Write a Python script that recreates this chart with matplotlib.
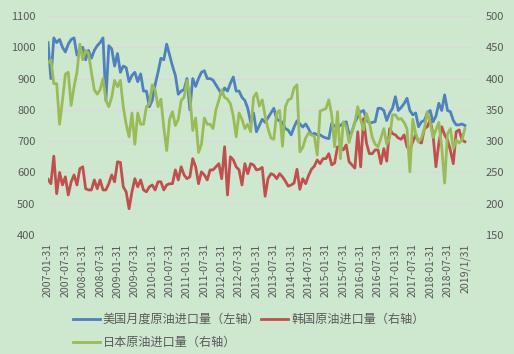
import matplotlib
matplotlib.use('Agg')
import matplotlib.pyplot as plt

plt.rcParams['font.family'] = ['Noto Sans CJK SC', 'DejaVu Sans']

# monthly, 2007-01 .. 2019-01
us_import = [1015, 900, 1030, 1015, 1025, 1000, 985, 1010, 1025, 1030,
             975, 995, 1000, 960, 990, 965, 990, 1005, 1015, 1030,
             830, 1005, 995, 940, 980, 920, 940, 935, 890, 910,
             920, 890, 915, 860, 860, 810, 830, 880, 920, 965,
             960, 1010, 975, 940, 910, 850, 860, 865, 900, 800,
             900, 875, 900, 920, 925, 900, 900, 895, 880, 865,
             850, 870, 860, 885, 905, 860, 860, 840, 830, 805,
             760, 790, 730, 750, 770, 760, 775, 790, 805, 770,
             765, 760, 740, 735, 720, 745, 765, 755, 745, 755,
             740, 720, 725, 720, 720, 714, 710, 708, 757, 748,
             744, 750, 758, 762, 722, 730, 760, 778, 794, 798,
             770, 757, 760, 762, 805, 805, 798, 766, 790, 805,
             842, 798, 808, 820, 837, 798, 784, 790, 746, 762,
             766, 790, 798, 762, 780, 821, 798, 848, 798, 794,
             766, 752, 752, 755, 750]

kr_import = [239, 232, 276, 216, 250, 230, 243, 214, 235, 246,
             230, 256, 259, 224, 222, 222, 238, 224, 238, 222,
             222, 232, 246, 235, 267, 266, 227, 219, 192, 219,
             240, 227, 238, 222, 219, 227, 230, 222, 235, 235,
             222, 230, 232, 232, 254, 238, 259, 246, 240, 243,
             272, 259, 232, 251, 246, 238, 254, 254, 259, 264,
             240, 291, 214, 275, 270, 259, 254, 230, 264, 248,
             264, 262, 254, 255, 258, 212, 240, 248, 246, 240,
             248, 243, 236, 228, 230, 233, 255, 223, 240, 232,
             245, 255, 260, 270, 264, 272, 272, 280, 262, 265,
             291, 290, 286, 294, 267, 262, 257, 315, 259, 336,
             297, 280, 280, 286, 286, 264, 288, 268, 320, 312,
             310, 305, 303, 310, 291, 286, 299, 310, 299, 297,
             320, 323, 334, 310, 259, 297, 323, 310, 302, 285,
             264, 315, 318, 302, 299]

jp_import = [425, 430, 392, 392, 327, 365, 407, 410, 357, 387,
             410, 455, 430, 445, 440, 410, 382, 375, 382, 400,
             365, 355, 370, 397, 387, 397, 355, 327, 307, 345,
             295, 345, 327, 327, 355, 360, 390, 382, 355, 367,
             322, 285, 335, 347, 325, 335, 365, 370, 397, 372,
             317, 337, 282, 295, 337, 327, 327, 320, 350, 365,
             382, 370, 367, 360, 340, 307, 345, 335, 320, 327,
             315, 370, 377, 356, 366, 340, 320, 305, 303, 345,
             349, 292, 355, 366, 368, 385, 390, 283, 290, 305,
             313, 310, 308, 278, 348, 350, 352, 366, 342, 291,
             347, 272, 331, 323, 298, 315, 330, 355, 334, 318,
             344, 330, 306, 295, 291, 305, 320, 295, 305, 342,
             342, 335, 336, 330, 320, 251, 335, 312, 299, 305,
             320, 347, 330, 306, 318, 330, 290, 233, 312, 320,
             288, 302, 297, 302, 320]

date_labels = ['2007-01-31', '2007-07-31', '2008-01-31', '2008-07-31',
               '2009-01-31', '2009-07-31', '2010-01-31', '2010-07-31',
               '2011-01-31', '2011-07-31', '2012-01-31', '2012-07-31',
               '2013-01-31', '2013-07-31', '2014-01-31', '2014-07-31',
               '2015-01-31', '2015-07-31', '2016-01-31', '2016-07-31',
               '2017-01-31', '2017-07-31', '2018-01-31', '2018-07-31',
               '2019/1/31']

names = ['美国月度原油进口量（左轴）', '韩国原油进口量（右轴）', '日本原油进口量（右轴）']
colors = ['#4F81BD', '#C0504D', '#9BBB59']

bg = '#CEE8D0'
txt = '#595959'

fig = plt.figure(figsize=(5.14, 3.54), dpi=100, facecolor=bg)
ax = fig.add_axes([48 / 514, 1 - 235 / 354, 425 / 514, 219 / 354])
ax.set_facecolor(bg)
ax2 = ax.twinx()

x = list(range(len(us_import)))
l1, = ax.plot(x, us_import, color=colors[0], lw=2.0, solid_joinstyle='round')
l2, = ax2.plot(x, kr_import, color=colors[1], lw=2.0, solid_joinstyle='round')
l3, = ax2.plot(x, jp_import, color=colors[2], lw=2.0, solid_joinstyle='round')

ax.set_ylim(400, 1100)
ax.set_yticks(range(400, 1101, 100))
ax2.set_ylim(150, 500)
ax2.set_yticks(range(150, 501, 50))
ax.set_xlim(0, 146.8)
ax.set_xticks(range(0, len(x), 6))
ax.set_xticklabels(date_labels, rotation=90)

ax.grid(axis='y', color='#D9D9D9', lw=0.8)
ax.set_axisbelow(True)
for a in (ax, ax2):
    for s in a.spines.values():
        s.set_visible(False)
ax.tick_params(axis='y', length=0, pad=9, labelsize=8, labelcolor=txt)
ax.tick_params(axis='x', length=0, pad=6, labelsize=7.6, labelcolor=txt)
ax2.tick_params(axis='y', length=0, pad=9, labelsize=8, labelcolor=txt)

leg = fig.legend([l1, l3, l2], [names[0], names[2], names[1]], ncol=2,
                 loc='upper left', bbox_to_anchor=(73 / 514, 1 - 313 / 354),
                 frameon=False, fontsize=8.7, handlelength=2.2,
                 handletextpad=0.25, columnspacing=0.1, labelspacing=0.85,
                 borderaxespad=0, borderpad=0)
for t in leg.get_texts():
    t.set_color(txt)

fig.savefig('out.png', dpi=100, facecolor=bg)
